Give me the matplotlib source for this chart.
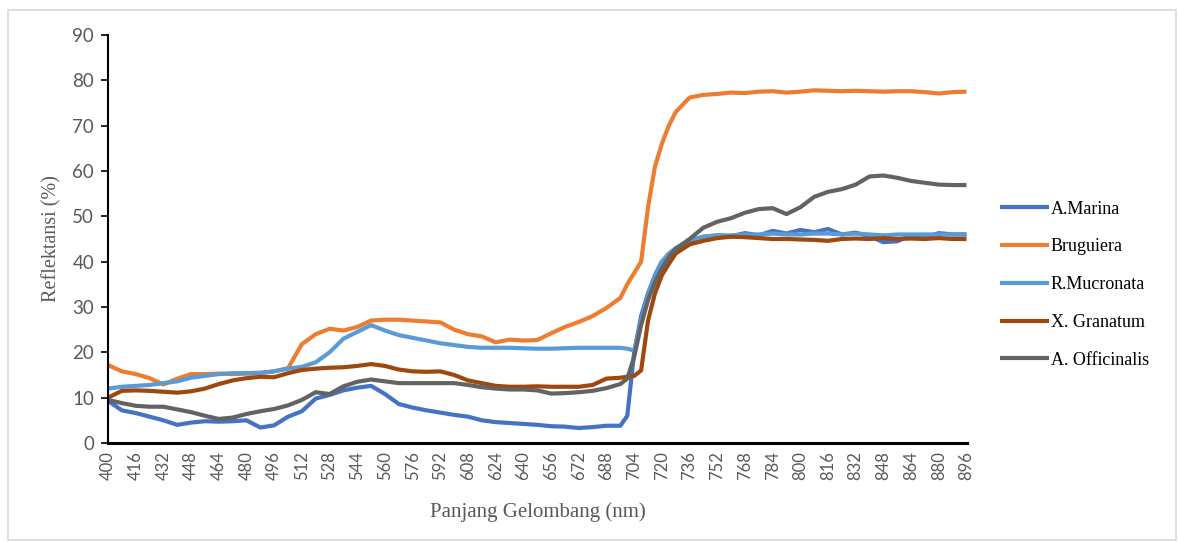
import matplotlib
matplotlib.use("Agg")
import matplotlib.pyplot as plt
from matplotlib.patches import Rectangle

# wavelength grid (nm), finer around the red edge
wavelength = list(range(400, 696, 8)) + [696, 700, 704, 708, 712, 716, 720, 724, 728] + list(range(736, 897, 8))

a_marina = [9.3, 7.2, 6.6, 5.8, 5.0, 4.0, 4.5, 4.8, 4.7, 4.8, 5.0, 3.4, 3.9, 5.8, 7.0, 9.8,
            10.6, 11.6, 12.2, 12.6, 10.8, 8.6, 7.8, 7.2, 6.7, 6.2, 5.8, 5.0, 4.6, 4.4, 4.2, 4.0,
            3.7, 3.6, 3.3, 3.5, 3.8, 3.8, 6.0, 20.0, 28.0, 33.0, 37.0, 40.0, 41.5, 42.8,
            44.5, 45.5, 45.8, 45.6, 46.3, 45.8, 46.8, 46.2, 47.0, 46.5, 47.2, 46.0, 46.4, 45.6,
            44.3, 44.5, 45.8, 45.4, 46.3, 46.0, 46.0]
bruguiera = [17.2, 15.8, 15.2, 14.3, 12.9, 14.2, 15.2, 15.2, 15.3, 15.2, 15.3, 15.4, 15.8, 16.5, 21.8, 24.0,
             25.2, 24.8, 25.6, 27.0, 27.2, 27.2, 27.0, 26.8, 26.6, 25.0, 24.0, 23.5, 22.2, 22.8, 22.6, 22.7,
             24.2, 25.6, 26.7, 28.0, 29.8, 32.0, 35.0, 37.5, 40.0, 52.0, 61.0, 66.0, 70.0, 73.0,
             76.2, 76.8, 77.0, 77.3, 77.2, 77.5, 77.6, 77.3, 77.5, 77.8, 77.7, 77.6, 77.7, 77.6,
             77.5, 77.6, 77.6, 77.4, 77.1, 77.4, 77.5]
r_mucronata = [12.0, 12.4, 12.6, 12.8, 13.2, 13.6, 14.4, 14.8, 15.2, 15.4, 15.4, 15.5, 15.8, 16.4, 16.8, 17.8,
               20.0, 23.0, 24.5, 26.0, 24.8, 23.8, 23.2, 22.6, 22.0, 21.6, 21.2, 21.0, 21.0, 21.0, 20.9, 20.8,
               20.8, 20.9, 21.0, 21.0, 21.0, 21.0, 20.8, 20.4, 27.0, 32.5, 37.0, 40.0, 41.8, 43.0,
               44.8, 45.5, 45.8, 45.8, 46.0, 46.0, 46.2, 46.0, 46.0, 46.2, 46.2, 46.0, 46.2, 46.0,
               45.8, 46.0, 46.0, 46.0, 46.0, 46.0, 46.0]
x_granatum = [10.0, 11.5, 11.6, 11.5, 11.3, 11.1, 11.4, 12.0, 13.0, 13.8, 14.3, 14.6, 14.5, 15.4, 16.1, 16.4,
              16.6, 16.7, 17.0, 17.4, 17.0, 16.2, 15.8, 15.7, 15.8, 15.0, 13.8, 13.2, 12.6, 12.4, 12.4, 12.5,
              12.4, 12.4, 12.4, 12.8, 14.2, 14.4, 14.6, 14.8, 16.0, 27.0, 33.0, 37.0, 39.5, 41.8,
              43.8, 44.6, 45.2, 45.5, 45.4, 45.2, 45.0, 45.0, 44.9, 44.8, 44.6, 45.0, 45.1, 45.0,
              45.2, 45.0, 45.1, 45.0, 45.2, 45.0, 45.0]
a_officinalis = [9.5, 8.8, 8.2, 8.0, 8.0, 7.4, 6.8, 6.0, 5.3, 5.6, 6.4, 7.0, 7.5, 8.3, 9.5, 11.2,
                 10.8, 12.5, 13.5, 14.0, 13.6, 13.2, 13.2, 13.2, 13.2, 13.2, 12.8, 12.3, 12.0, 11.8, 11.8, 11.6,
                 10.9, 11.0, 11.2, 11.5, 12.1, 13.0, 14.2, 19.0, 26.0, 31.5, 35.5, 38.5, 41.0, 42.8,
                 45.0, 47.5, 48.8, 49.6, 50.8, 51.6, 51.8, 50.5, 52.0, 54.3, 55.4, 56.0, 57.0, 58.8,
                 59.0, 58.5, 57.8, 57.4, 57.0, 56.9, 56.9]

names = ["A.Marina", "Bruguiera", "R.Mucronata", "X. Granatum", "A. Officinalis"]
colors = ["#4472C4", "#ED7D31", "#5B9BD5", "#9E480E", "#636363"]
xticks = list(range(400, 897, 16))

fig = plt.figure(figsize=(11.78, 5.42), dpi=100)
ax = fig.add_axes([0.0917, 0.1827, 0.7295, 0.7527])

for vals, name, c in zip([a_marina, bruguiera, r_mucronata, x_granatum, a_officinalis], names, colors):
    ax.plot(wavelength, vals, color=c, lw=3.0, label=name, solid_capstyle="butt")

ax.set_xlim(400, 896.5)
ax.set_ylim(0, 90)
ax.set_yticks(range(0, 91, 10))
ax.set_xticks(xticks)
ax.set_xticklabels([str(t) for t in xticks], rotation=90, family="Lato", fontsize=12, color="#595959")
ax.set_yticklabels([str(t) for t in range(0, 91, 10)], family="Lato", fontsize=13.5, color="#595959")
ax.tick_params(axis="x", length=0, pad=6)
ax.tick_params(axis="y", length=5, width=1.2, pad=5)

for s in ["top", "right"]:
    ax.spines[s].set_visible(False)
ax.spines["left"].set_linewidth(1.5)
ax.spines["bottom"].set_linewidth(2.2)

ax.set_ylabel("Reflektansi (%)", family="Liberation Serif", fontsize=14.5, color="#595959", labelpad=8)
ax.set_xlabel("Panjang Gelombang (nm)", family="Liberation Serif", fontsize=15, color="#595959", labelpad=16)

fig.legend(loc="upper left", bbox_to_anchor=(0.843, 0.643), frameon=False,
           prop={"family": "Liberation Serif", "size": 13},
           handlelength=2.7, handletextpad=0.1, labelspacing=1.15, borderaxespad=0)

fig.patches.append(Rectangle((0.007, 0.004), 0.991, 0.978, transform=fig.transFigure,
                             fill=False, edgecolor="#d9d9d9", lw=1.2))

fig.savefig("out.png", dpi=100)
